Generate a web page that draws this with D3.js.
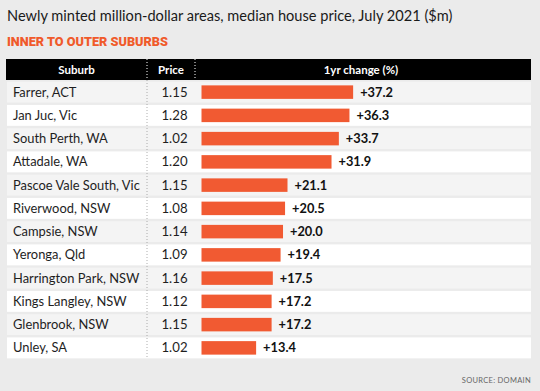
<!DOCTYPE html>
<html><head><meta charset="utf-8">
<script src="https://cdn.jsdelivr.net/npm/d3@7"></script>
<style>
html,body{margin:0;padding:0;background:#ebebeb;}
svg{display:block;}
</style></head>
<body>
<svg id="chart" width="540" height="391"></svg>
<script>
const suburbs = ["Farrer, ACT","Jan Juc, Vic","South Perth, WA","Attadale, WA","Pascoe Vale South, Vic","Riverwood, NSW","Campsie, NSW","Yeronga, Qld","Harrington Park, NSW","Kings Langley, NSW","Glenbrook, NSW","Unley, SA"];
const prices = ["1.15","1.28","1.02","1.20","1.15","1.08","1.14","1.09","1.16","1.12","1.15","1.02"];
const changes = [37.2,36.3,33.7,31.9,21.1,20.5,20.0,19.4,17.5,17.2,17.2,13.4];
const headers = ["Suburb","Price","1yr change (%)"];

const svg = d3.select("#chart");
const font = "Lato, 'Open Sans', sans-serif";

svg.append("rect").attr("width",540).attr("height",391).attr("fill","#ebebeb");

svg.append("text").attr("x",7).attr("y",21)
  .attr("font-family",font).attr("font-size",14.6).attr("fill","#1a1a1a")
  .text("Newly minted million-dollar areas, median house price, July 2021 ($m)");

svg.append("text").attr("x",7).attr("y",46)
  .attr("font-family","Roboto, sans-serif").attr("font-weight",900)
  .attr("font-size",12.8).attr("fill","#f05a2a")
  .attr("textLength",161).attr("lengthAdjust","spacingAndGlyphs")
  .text("INNER TO OUTER SUBURBS");

// header
const left = 6, right = 531, sep1 = 147, sep2 = 195;
svg.append("rect").attr("x",left).attr("y",59).attr("width",right-left).attr("height",21).attr("fill","#000");
const hx = [(left+sep1)/2, (sep1+sep2)/2, 361];
svg.selectAll(".hdr").data(headers).join("text")
  .attr("x",(d,i)=>hx[i]).attr("y",73.5).attr("text-anchor","middle")
  .attr("font-family",font).attr("font-weight",700).attr("font-size",11.5).attr("fill","#fff")
  .text(d=>d);

const y = d3.scaleBand().domain(suburbs).range([80.5, 359.5]).paddingInner(0.1).paddingOuter(0.05);
const x = d3.scaleLinear().domain([0, 40]).range([201.5, 201.5 + 40*4.076]);

const rows = svg.selectAll(".row").data(suburbs).join("g").attr("class","row");
rows.append("rect")
  .attr("x",left+1).attr("width",right-left-1)
  .attr("y",d=>y(d)).attr("height",y.bandwidth())
  .attr("fill",(d,i)=> i%2===0 ? "#f4f4f4" : "#ffffff");

// dotted separators
[sep1, sep2].forEach(sx=>{
  svg.append("line").attr("x1",sx).attr("x2",sx).attr("y1",59).attr("y2",80)
    .attr("stroke","#fff").attr("stroke-width",1).attr("stroke-dasharray","1,2");
});
svg.append("line").attr("x1",sep1).attr("x2",sep1).attr("y1",80).attr("y2",359)
  .attr("stroke","#999").attr("stroke-width",0.8).attr("stroke-dasharray","1,2");

rows.append("text").attr("x",13).attr("y",d=>y(d)+y.bandwidth()/2+4.6)
  .attr("font-family",font).attr("font-size",12.9).attr("fill","#1e1e1e").text(d=>d);

rows.append("text").attr("x",174.5).attr("text-anchor","middle")
  .attr("y",d=>y(d)+y.bandwidth()/2+4.6)
  .attr("font-family",font).attr("font-size",13.2).attr("fill","#1e1e1e").text((d,i)=>prices[i]);

const bh = 13.5;
rows.append("rect").attr("x",x(0)).attr("y",d=>y(d)+(y.bandwidth()-bh)/2)
  .attr("width",(d,i)=>x(changes[i])-x(0)).attr("height",bh).attr("fill","#f15a32");

rows.append("text").attr("x",(d,i)=>x(changes[i])+7)
  .attr("y",d=>y(d)+y.bandwidth()/2+4.4)
  .attr("font-family",font).attr("font-weight",700).attr("font-size",12.8).attr("fill","#111")
  .text((d,i)=>"+"+changes[i].toFixed(1));

svg.append("text").attr("x",531).attr("y",383).attr("text-anchor","end")
  .attr("font-family",font).attr("font-size",7.5).attr("fill","#666").attr("letter-spacing",0.3)
  .text("SOURCE: DOMAIN");
</script>
</body></html>
